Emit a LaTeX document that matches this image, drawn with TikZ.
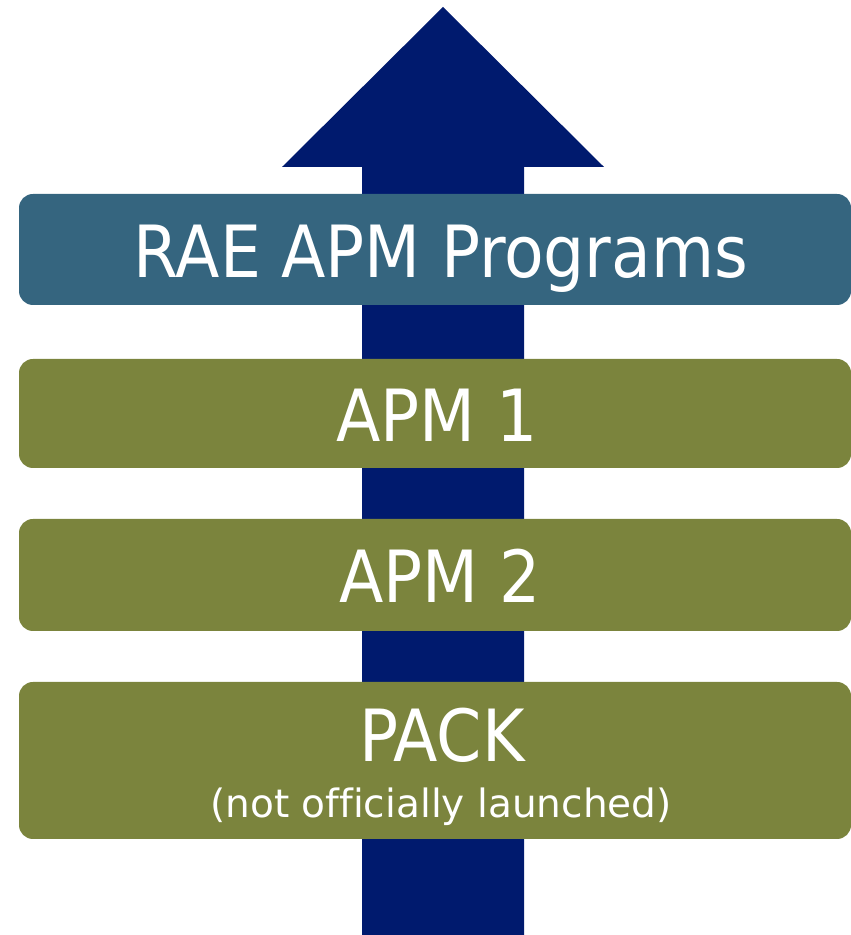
\documentclass[tikz,border=0pt]{standalone}
\usepackage{fontspec}
\setmainfont{DejaVu Sans Condensed}
\newfontfamily\notefont[Ligatures=NoCommon]{DejaVu Sans}
\definecolor{arrowblue}{HTML}{001A6E}
\definecolor{boxblue}{HTML}{35657F}
\definecolor{boxolive}{HTML}{7B843D}
\begin{document}
\begin{tikzpicture}[x=1pt,y=1pt,
  bar/.style={rounded corners=14pt},
  biglabel/.style={text=white,anchor=base,inner sep=0pt,font=\fontsize{72}{78}\selectfont},
  smalllabel/.style={text=white,anchor=base,inner sep=0pt,font=\notefont\fontsize{39}{44}\selectfont}]
\useasboundingbox (0,0) rectangle (851,935);
% arrow
\fill[arrowblue] (362,0) -- (362,768) -- (282,768) -- (443,928) -- (604,768) -- (524,768) -- (524,0) -- cycle;
% bars
\fill[boxblue,bar] (19,630) rectangle (851,741);
\fill[boxolive,bar] (19,467) rectangle (851,576);
\fill[boxolive,bar] (19,304) rectangle (851,416);
\fill[boxolive,bar] (19,96) rectangle (851,253);
% labels
\node[biglabel] (rae) at (441,657) {RAE APM Programs};
\node[biglabel] (apm1) at (437,493) {APM 1};
\node[biglabel] (apm2) at (440,332) {APM 2};
\node[biglabel] (pack) at (442,173) {PACK};
\node[smalllabel] (note) at (441,117) {(not officially launched)};
\end{tikzpicture}
\end{document}
